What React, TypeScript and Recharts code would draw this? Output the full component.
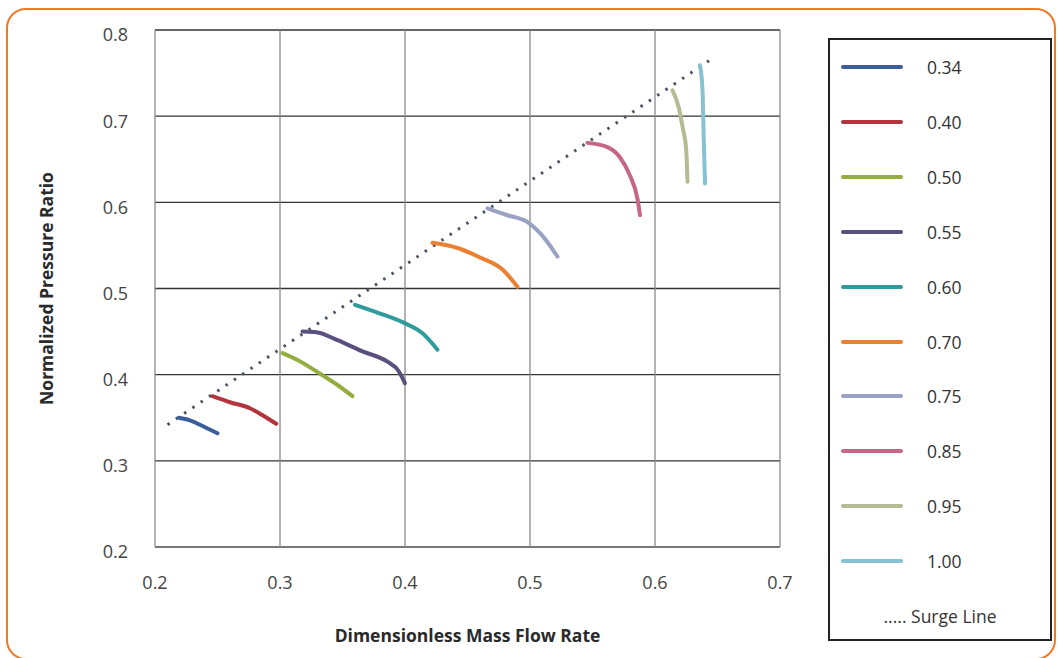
import { LineChart, Line, XAxis, YAxis, CartesianGrid, Legend } from 'recharts';

type Pt = { x: number; y: number };

// speed lines: [mass flow, pressure ratio] pairs, left end sits on the surge line
const speed034: Pt[] = [
  { x: 0.219, y: 0.35 },
  { x: 0.228, y: 0.347 },
  { x: 0.24, y: 0.339 },
  { x: 0.25, y: 0.332 },
];
const speed040: Pt[] = [
  { x: 0.246, y: 0.375 },
  { x: 0.26, y: 0.368 },
  { x: 0.276, y: 0.361 },
  { x: 0.286, y: 0.353 },
  { x: 0.297, y: 0.343 },
];
const speed050: Pt[] = [
  { x: 0.302, y: 0.425 },
  { x: 0.314, y: 0.417 },
  { x: 0.33, y: 0.403 },
  { x: 0.346, y: 0.388 },
  { x: 0.358, y: 0.375 },
];
const speed055: Pt[] = [
  { x: 0.318, y: 0.45 },
  { x: 0.33, y: 0.449 },
  { x: 0.346, y: 0.44 },
  { x: 0.366, y: 0.427 },
  { x: 0.386, y: 0.415 },
  { x: 0.395, y: 0.404 },
  { x: 0.4, y: 0.39 },
];
const speed060: Pt[] = [
  { x: 0.36, y: 0.481 },
  { x: 0.378, y: 0.472 },
  { x: 0.398, y: 0.461 },
  { x: 0.414, y: 0.448 },
  { x: 0.426, y: 0.429 },
];
const speed070: Pt[] = [
  { x: 0.422, y: 0.553 },
  { x: 0.442, y: 0.547 },
  { x: 0.46, y: 0.536 },
  { x: 0.478, y: 0.522 },
  { x: 0.49, y: 0.502 },
];
const speed075: Pt[] = [
  { x: 0.466, y: 0.593 },
  { x: 0.482, y: 0.585 },
  { x: 0.498, y: 0.577 },
  { x: 0.51, y: 0.561 },
  { x: 0.522, y: 0.537 },
];
const speed085: Pt[] = [
  { x: 0.546, y: 0.669 },
  { x: 0.562, y: 0.664 },
  { x: 0.572, y: 0.652 },
  { x: 0.58, y: 0.631 },
  { x: 0.586, y: 0.604 },
  { x: 0.588, y: 0.585 },
];
const speed095: Pt[] = [
  { x: 0.614, y: 0.73 },
  { x: 0.619, y: 0.71 },
  { x: 0.622, y: 0.688 },
  { x: 0.625, y: 0.66 },
  { x: 0.626, y: 0.624 },
];
const speed100: Pt[] = [
  { x: 0.636, y: 0.759 },
  { x: 0.638, y: 0.73 },
  { x: 0.639, y: 0.672 },
  { x: 0.64, y: 0.622 },
];
const surgeLine: Pt[] = [
  { x: 0.21, y: 0.342 },
  { x: 0.648, y: 0.769 },
];

const speedLabels = ['0.34', '0.40', '0.50', '0.55', '0.60', '0.70', '0.75', '0.85', '0.95', '1.00'];
const speedData = [
  speed034, speed040, speed050, speed055, speed060,
  speed070, speed075, speed085, speed095, speed100,
];
const speedColors = [
  '#3c5d9c', '#b2343c', '#93ad3e', '#5b4f80', '#2f9b9c',
  '#e98130', '#9aa2c4', '#c66685', '#b3bc92', '#86c2d2',
];

const xTicks = [0.2, 0.3, 0.4, 0.5, 0.6, 0.7];
const yTicks = [0.2, 0.3, 0.4, 0.5, 0.6, 0.7, 0.8];

const FONT = '"Open Sans", Lato, sans-serif';

function LegendBox() {
  return (
    <div
      style={{
        width: 224,
        height: 603,
        border: '2px solid #222',
        boxSizing: 'border-box',
        fontFamily: FONT,
        fontSize: 17.5,
        color: '#333',
        position: 'relative',
      }}
    >
      {speedLabels.map((lab, i) => (
        <div
          key={lab}
          style={{ position: 'absolute', left: 0, top: 15 + i * 54.9, height: 24, display: 'flex', alignItems: 'center' }}
        >
          <div style={{ width: 62, height: 4, marginLeft: 11, background: speedColors[i], borderRadius: 2 }} />
          <span style={{ marginLeft: 24 }}>{lab}</span>
        </div>
      ))}
      <div style={{ position: 'absolute', left: 0, right: 0, top: 564, textAlign: 'center' }}>
        ..... Surge Line
      </div>
    </div>
  );
}

export default function App() {
  return (
    <div style={{ position: 'absolute', left: 0, top: 0, width: 1058, height: 658, background: '#fff', overflow: 'hidden' }}>
      <div
        style={{
          position: 'absolute',
          left: 6,
          top: 8,
          width: 1050,
          height: 652,
          border: '2.5px solid #f07a24',
          borderRadius: 20,
          boxSizing: 'border-box',
        }}
      />
      <LineChart width={1058} height={658} margin={{ top: 30, right: 54, bottom: 11, left: 35 }}>
        <CartesianGrid vertical={false} stroke="#333" strokeWidth={1.3} />
        <CartesianGrid horizontal={false} stroke="#8a8a8a" strokeWidth={1.3} />
        <XAxis
          type="number"
          dataKey="x"
          domain={[0.2, 0.7]}
          ticks={xTicks}
          allowDataOverflow
          axisLine={{ stroke: '#8a8a8a' }}
          tickLine={false}
          tickMargin={23}
          height={100}
          tick={{ fill: '#444', fontSize: 18, fontFamily: FONT }}
          tickFormatter={(v: number) => v.toFixed(1)}
          label={{
            value: 'Dimensionless Mass Flow Rate',
            position: 'insideBottom',
            offset: 5,
            style: { fill: '#2a2a2a', fontSize: 17.5, fontWeight: 700, fontFamily: FONT },
          }}
        />
        <YAxis
          type="number"
          dataKey="y"
          domain={[0.2, 0.8]}
          ticks={yTicks}
          allowDataOverflow
          axisLine={false}
          tickLine={false}
          tickMargin={21}
          width={120}
          tick={{ fill: '#444', fontSize: 18, fontFamily: FONT, dy: 5 }}
          tickFormatter={(v: number) => v.toFixed(1)}
          label={{
            value: 'Normalized Pressure Ratio',
            angle: -90,
            position: 'insideLeft',
            offset: 12,
            style: { fill: '#2a2a2a', fontSize: 17.5, fontWeight: 700, fontFamily: FONT, textAnchor: 'middle' },
          }}
        />
        <Legend
          verticalAlign="top"
          align="right"
          layout="vertical"
          wrapperStyle={{ position: 'absolute', left: 828, top: 38, width: 224 }}
          content={() => <LegendBox />}
        />
        <Line
          data={surgeLine}
          dataKey="y"
          name="Surge Line"
          stroke="#4a5566"
          strokeWidth={3}
          strokeDasharray="2.5 7.5"
          dot={false}
          isAnimationActive={false}
        />
        {speedData.map((d, i) => (
          <Line
            key={speedLabels[i]}
            data={d}
            dataKey="y"
            name={speedLabels[i]}
            type="monotone"
            stroke={speedColors[i]}
            strokeWidth={4}
            strokeLinecap="round"
            dot={false}
            isAnimationActive={false}
          />
        ))}
      </LineChart>
    </div>
  );
}
